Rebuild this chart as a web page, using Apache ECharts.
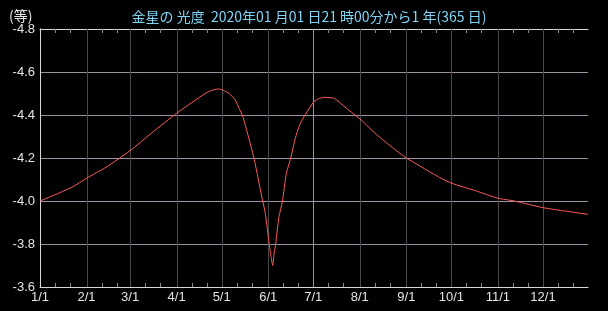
<!DOCTYPE html>
<html><head><meta charset="utf-8">
<script src="https://cdn.jsdelivr.net/npm/echarts@6/dist/echarts.min.js"></script>
<style>html,body{margin:0;padding:0;background:#000;}#c{width:608px;height:311px;}</style>
</head><body><div id="c"></div>
<script>
// Data (days from 2020-01-01 21:00, magnitude)
const days = [0, 13, 22, 31, 44, 60, 75, 91, 102, 111, 116, 119, 122, 126, 130, 133, 135, 138, 142.5, 145, 148, 150, 152.5, 154, 155, 156, 157, 159, 161.5, 164, 167, 170, 173, 177, 182.5, 186, 190, 196, 204, 214, 224, 237.5, 244, 251, 266, 274, 290, 305, 316, 335, 350, 365];
const mags = [-4.00, -4.038, -4.067, -4.106, -4.157, -4.234, -4.32, -4.408, -4.462, -4.504, -4.518, -4.521, -4.515, -4.50, -4.47, -4.425, -4.395, -4.32, -4.20, -4.115, -4.01, -3.945, -3.81, -3.735, -3.70, -3.76, -3.80, -3.92, -4.00, -4.125, -4.20, -4.29, -4.355, -4.405, -4.462, -4.477, -4.482, -4.477, -4.432, -4.376, -4.31, -4.233, -4.20, -4.171, -4.11, -4.083, -4.048, -4.013, -4.00, -3.969, -3.953, -3.938];
const monthDays = [0, 31, 60, 91, 121, 152, 182, 213, 244, 274, 305, 335];
const monthLabels = ['1/1','2/1','3/1','4/1','5/1','6/1','7/1','8/1','9/1','10/1','11/1','12/1'];
const yTicks = [-4.8, -4.6, -4.4, -4.2, -4.0, -3.8, -3.6];
const titleText = '金星の 光度  2020年01 月01 日21 時00分から1 年(365 日)';
const unitText = '(等)';

const minorDays = [];
monthDays.forEach(d => { minorDays.push(d + 10, d + 20); });

const yMin = yTicks[0], yMax = yTicks[yTicks.length - 1];

const chart = echarts.init(document.getElementById('c'), null, {renderer: 'canvas'});
const border = '#d8d8d8';
const labelColor = '#e4e4e4';
const gridPurple = '#a090a4';
const gridGray = '#4a4a4a';
const tickGray = '#8c8c8c';

const vItems = monthDays.slice(1).map(d => [d, 0]);
minorDays.forEach(d => { vItems.push([d, 1]); vItems.push([d, 2]); });

chart.setOption({
  backgroundColor: '#000',
  animation: false,
  title: [{
    text: titleText, left: 304, top: 5, textAlign: 'center',
    textStyle: {color: '#80d4f4', fontSize: 14, fontWeight: 'normal', fontFamily: 'Noto Sans CJK JP'}
  }, {
    text: unitText, left: 4, top: 4,
    textStyle: {color: labelColor, fontSize: 14, fontWeight: 'normal', fontFamily: 'Noto Sans CJK JP'}
  }],
  grid: {left: 40, top: 29, right: 20, bottom: 24, show: false},
  xAxis: [{
    type: 'value', min: 0, max: 365, position: 'bottom',
    axisLine: {show: true, lineStyle: {color: border, width: 1}},
    axisTick: {show: false},
    axisLabel: {show: true, customValues: monthDays, color: labelColor, fontSize: 13, margin: 4,
      fontFamily: 'Liberation Sans',
      formatter: v => monthLabels[monthDays.indexOf(v)] || ''},
    splitLine: {show: false}
  }, {
    type: 'value', min: 0, max: 365, position: 'top',
    axisLine: {show: true, lineStyle: {color: border, width: 1}},
    axisTick: {show: false},
    axisLabel: {show: false},
    splitLine: {show: false}
  }],
  yAxis: [{
    type: 'value', min: yMin, max: yMax, interval: 0.2, inverse: true, position: 'left',
    axisLine: {show: true, lineStyle: {color: border, width: 1}},
    axisTick: {show: false},
    axisLabel: {color: labelColor, fontSize: 13, margin: 5, fontFamily: 'Liberation Sans',
      formatter: v => v.toFixed(1)},
    splitLine: {show: true, showMinLine: false, showMaxLine: false, lineStyle: {color: gridPurple, width: 1}}
  }, {
    type: 'value', min: yMin, max: yMax, inverse: true, position: 'right',
    axisLine: {show: true, lineStyle: {color: border, width: 1}},
    axisTick: {show: false}, axisLabel: {show: false}, splitLine: {show: false}
  }],
  series: [{
    // month grid lines (kind 0) and 10-day minor ticks at top (1) / bottom (2)
    type: 'custom', z: 1, silent: true, clip: false,
    data: vItems,
    dimensions: ['day', 'kind'],
    encode: {x: 0},
    renderItem: (params, api) => {
      const d = api.value(0);
      const kind = api.value(1);
      const top = api.coord([d, yMin]);
      const bot = api.coord([d, yMax]);
      const x = Math.round(top[0]) + 0.5;
      let y1 = top[1], y2 = bot[1], color = d === 182 ? gridPurple : gridGray;
      if (kind === 1) { y1 = top[1]; y2 = top[1] + 4; color = tickGray; }
      else if (kind === 2) { y1 = bot[1] - 4; y2 = bot[1]; color = tickGray; }
      return {type: 'line', shape: {x1: x, y1: y1, x2: x, y2: y2},
        style: {stroke: color, lineWidth: 1}};
    }
  }, {
    type: 'line', z: 3,
    data: days.map((d, i) => [d, mags[i]]),
    showSymbol: false, symbol: 'none',
    lineStyle: {color: '#ff5a5a', width: 1},
    smooth: 0.2
  }]
});
</script></body></html>
